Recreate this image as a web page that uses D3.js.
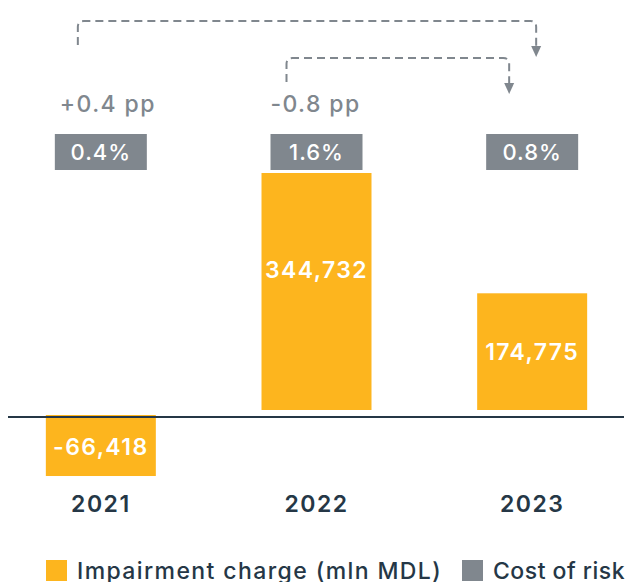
<!DOCTYPE html>
<html>
<head>
<meta charset="utf-8">
<script src="https://cdn.jsdelivr.net/npm/d3@7"></script>
<style>
  body { margin: 0; background: #fff; }
  svg { display: block; font-family: Inter, "Noto Sans", sans-serif; }
</style>
</head>
<body>
<svg id="chart" width="632" height="582"></svg>
<script>
// chart data
const years = ["2021", "2022", "2023"];
const impairment = [-66418, 344732, 174775];
const costOfRisk = ["0.4%", "1.6%", "0.8%"];
// change arrows: from year -> to year, with label
const changes = [
    { from: "2021", to: "2023", label: "+0.4 pp" },
    { from: "2022", to: "2023", label: "-0.8 pp" }
];
const legendItems = ["Impairment charge (mln MDL)", "Cost of risk"];

const orange = "#FDB51E";
const grey = "#80878E";
const navy = "#253746";

const svg = d3.select("#chart");

const x = d3.scaleBand()
    .domain(years)
    .range([-7, 640])
    .paddingInner(0.49)
    .paddingOuter(0.245);

const y = d3.scaleLinear()
    .domain([0, 344732])
    .range([417, 173]);

const fmt = d3.format(",");
const cx = d => x(d) + x.bandwidth() / 2;

// bars
svg.selectAll(".bar")
    .data(impairment)
    .join("rect")
    .attr("class", "bar")
    .attr("x", (d, i) => x(years[i]))
    .attr("width", x.bandwidth())
    .attr("y", d => d >= 0 ? y(d) : y(0) - 2)
    .attr("height", d => d >= 0 ? y(0) - 7 - y(d) : y(d) - y(0) + 14)
    .attr("fill", orange);

// zero line
svg.append("line")
    .attr("x1", 8).attr("x2", 624)
    .attr("y1", y(0)).attr("y2", y(0))
    .attr("stroke", navy)
    .attr("stroke-width", 2);

// value labels in bars
svg.selectAll(".val")
    .data(impairment)
    .join("text")
    .attr("class", "val")
    .attr("x", (d, i) => cx(years[i]))
    .attr("y", d => d >= 0 ? y(d) + Math.min((y(0) - 7 - y(d)) / 2, 97) : y(0) + 30)
    .attr("dy", "0.36em")
    .attr("text-anchor", "middle")
    .attr("fill", "#fff")
    .attr("font-size", 23)
    .attr("font-weight", 600)
    .attr("letter-spacing", 1.4)
    .text(d => fmt(d).replace("−", "-"));

// cost of risk boxes
const box = svg.selectAll(".cor")
    .data(costOfRisk)
    .join("g")
    .attr("class", "cor")
    .attr("transform", (d, i) => `translate(${cx(years[i])},152)`);
box.append("rect")
    .attr("x", -46).attr("y", -18)
    .attr("width", 92).attr("height", 36)
    .attr("fill", grey);
box.append("text")
    .attr("text-anchor", "middle")
    .attr("dy", "0.36em")
    .attr("fill", "#fff")
    .attr("font-size", 22)
    .attr("font-weight", 500)
    .attr("letter-spacing", 1)
    .text(d => d);

// change labels and dashed connectors
const levels = [21, 58];
const rightOffset = [4, -23];
changes.forEach((c, i) => {
    const x0 = cx(c.from) - 23 + (i === 1 ? -7 : 0);
    const x1 = cx(c.to) + rightOffset[i];
    const top = levels[i];
    const bottom = top + 24;
    const r = 6;
    svg.append("path")
        .attr("d", `M${x0},${bottom} V${top + r} Q${x0},${top} ${x0 + r},${top} H${x1 - r} Q${x1},${top} ${x1},${top + r} V${top + 26}`)
        .attr("fill", "none")
        .attr("stroke", grey)
        .attr("stroke-width", 2)
        .attr("stroke-dasharray", "8,5");
    svg.append("path")
        .attr("d", `M${x1 - 5},${top + 25} L${x1 + 5},${top + 25} L${x1},${top + 36} Z`)
        .attr("fill", grey);
    svg.append("text")
        .attr("x", cx(c.from) + 7 - (i === 1 ? 8 : 0))
        .attr("y", 104)
        .attr("dy", "0.36em")
        .attr("text-anchor", "middle")
        .attr("fill", grey)
        .attr("font-size", 23)
        .attr("font-weight", 500)
        .attr("letter-spacing", 1.4)
        .text(c.label);
});

// year axis
const axis = svg.append("g")
    .attr("transform", "translate(0,496)")
    .call(d3.axisBottom(x).tickSize(0).tickPadding(0));
axis.select(".domain").remove();
axis.selectAll("text")
    .attr("dy", "0.71em")
    .attr("fill", navy)
    .attr("font-size", 23)
    .attr("font-weight", 600)
    .attr("letter-spacing", 1.5)
    .attr("font-family", "Inter, sans-serif");

// legend
const legend = svg.append("g").attr("transform", "translate(46,560)");
const legX = [0, 416];
const legSpacing = [1.4, 0.5];
legendItems.forEach((t, i) => {
    const g = legend.append("g").attr("transform", `translate(${legX[i]},0)`);
    g.append("rect")
        .attr("width", 21).attr("height", 21)
        .attr("fill", i === 0 ? orange : grey);
    g.append("text")
        .attr("x", 31).attr("y", 11)
        .attr("dy", "0.36em")
        .attr("fill", navy)
        .attr("font-size", 23)
        .attr("font-weight", 500)
        .attr("letter-spacing", legSpacing[i])
        .text(t);
});
</script>
</body>
</html>
